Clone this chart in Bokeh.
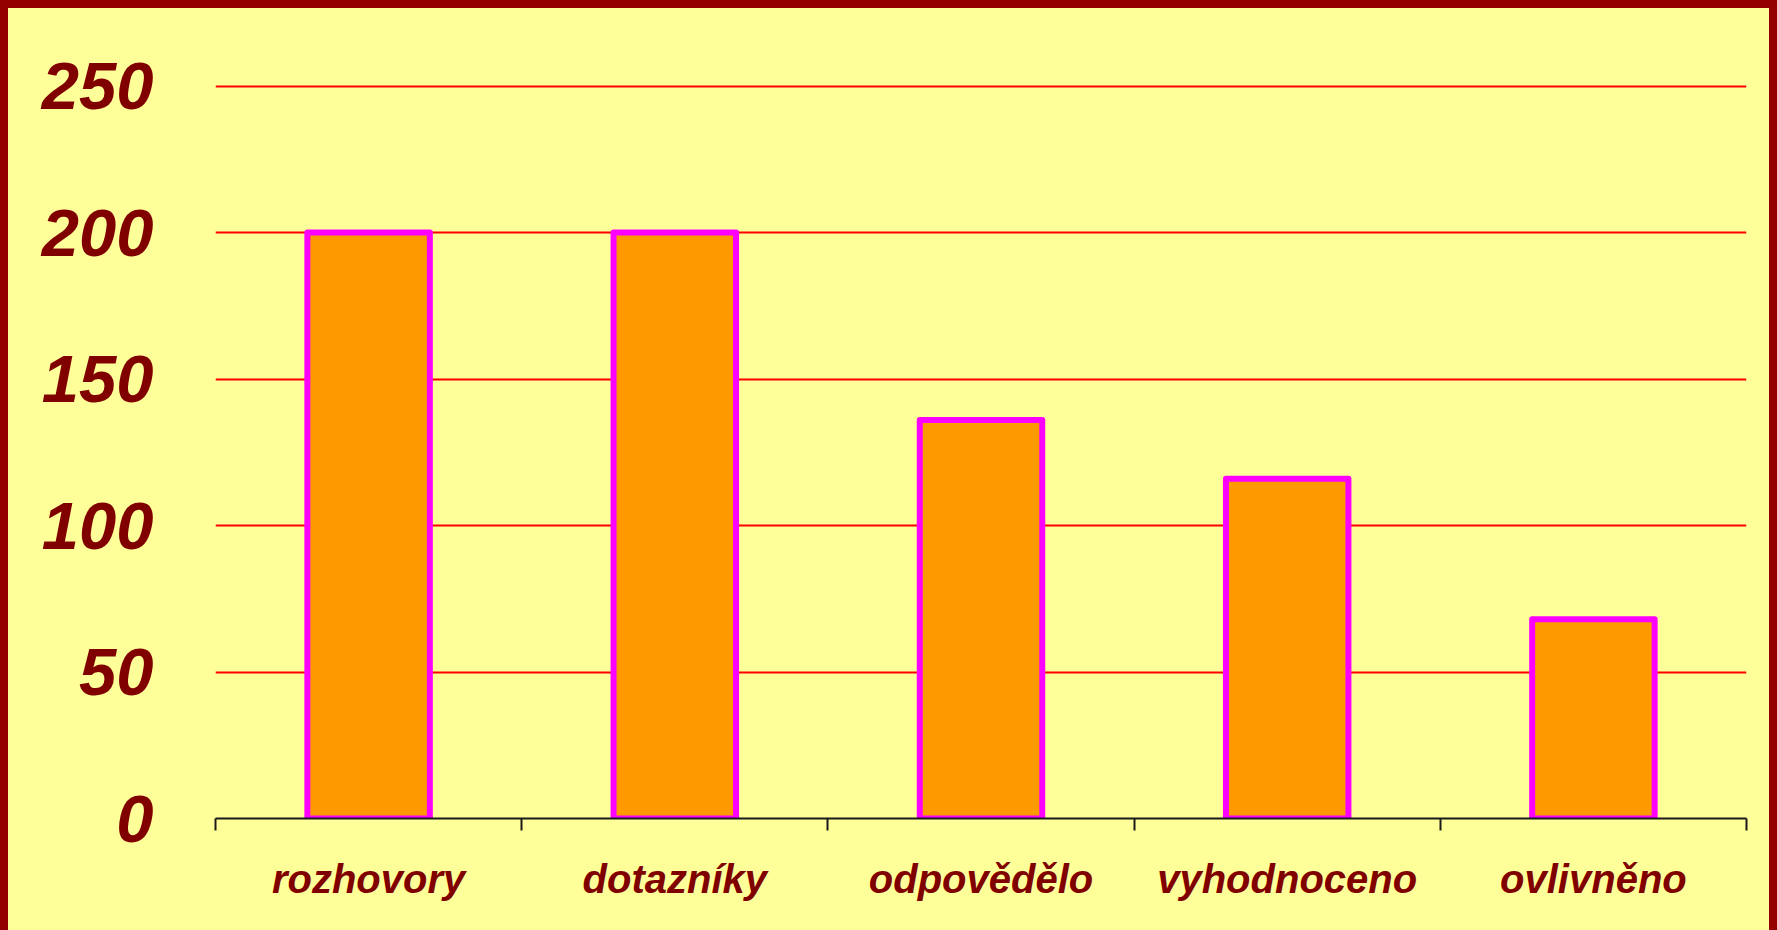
from bokeh.plotting import figure
from bokeh.layouts import column
from bokeh.models import Range1d, LinearAxis, FixedTicker
from bokeh.embed import file_html
from bokeh.resources import INLINE

categories = ["rozhovory", "dotazníky", "odpovědělo", "vyhodnoceno", "ovlivněno"]
values = [200, 200, 136, 116, 68]
y_ticks = [0, 50, 100, 150, 200, 250]

n = len(categories)
centers = [i + 0.5 for i in range(n)]
edges = list(range(n + 1))

W, H = 1761, 922
BG = "#FFFF99"
TXT = "#800000"
FRAME = "#940000"
FONT = "Liberation Sans"

p = figure(width=W, height=H,
           x_range=Range1d(0, n),
           y_range=Range1d(0, 270),
           output_backend="svg", toolbar_location=None,
           x_axis_location=None,
           styles={"background-color": BG})
p.min_border_left = 207
p.min_border_right = 23
p.min_border_top = 19
p.min_border_bottom = 112
p.background_fill_color = BG
p.border_fill_color = BG
p.outline_line_color = None

# y axis
ya = p.yaxis[0]
ya.ticker = FixedTicker(ticks=y_ticks)
ya.axis_line_color = None
ya.major_tick_line_color = None
ya.minor_tick_line_color = None
ya.major_tick_out = 0
ya.major_tick_in = 0
ya.major_label_standoff = 62
ya.major_label_text_font = FONT
ya.major_label_text_font_style = "bold italic"
ya.major_label_text_font_size = "67px"
ya.major_label_text_color = TXT

p.ygrid[0].ticker = FixedTicker(ticks=y_ticks[1:])
p.ygrid[0].grid_line_color = "#FF0000"
p.ygrid[0].grid_line_width = 2
p.xgrid[0].visible = False

p.vbar(x=centers, top=values, bottom=0, width=0.4,
       fill_color="#FF9900", line_color="#FF00FF", line_width=6, line_join="round")

# x axis: labels at bar centres, tick marks at category boundaries
xa = LinearAxis(ticker=FixedTicker(ticks=centers, minor_ticks=edges),
                major_label_overrides={c: lab for c, lab in zip(centers, categories)},
                axis_line_color="#1A1A1A", axis_line_width=2,
                major_tick_line_color=None, major_tick_in=0, major_tick_out=0,
                minor_tick_line_color="#1A1A1A", minor_tick_line_width=2,
                minor_tick_in=0, minor_tick_out=12,
                major_label_standoff=26,
                major_label_text_font=FONT,
                major_label_text_font_style="bold italic",
                major_label_text_font_size="40px",
                major_label_text_color=TXT)
p.add_layout(xa, "below")

page = column(p, styles={"background-color": FRAME, "padding": "8px 8px 0px 8px"})

open("out.html", "w").write(file_html(page, INLINE))
